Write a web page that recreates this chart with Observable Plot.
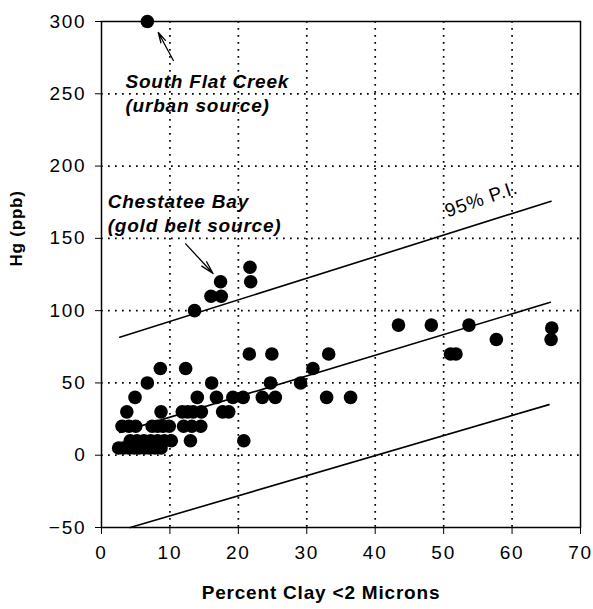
<!DOCTYPE html>
<html><head><meta charset="utf-8">
<script src="https://cdn.jsdelivr.net/npm/d3@7"></script>
<script src="https://cdn.jsdelivr.net/npm/@observablehq/plot@0.6"></script>
<style>
body{margin:0;background:#fff}
</style>
</head><body><div id="chart"></div>
<script>
// Observations: percent clay (<2 microns) and Hg (ppb)
const clayPct = [
  2.5, 3.2, 4.0, 4.8, 5.5, 6.3, 7.0, 7.8, 8.7,
  4.2, 5.2, 6.2, 7.2, 8.2, 9.2, 10.2, 13.0, 20.8,
  3.0, 4.0, 5.0, 7.4, 8.2, 9.0, 9.9, 12.0, 13.2, 14.5,
  3.7, 8.7, 11.8, 12.6, 13.4, 14.6, 17.7, 18.6,
  4.9, 14.0, 16.8, 19.2, 20.7, 23.5, 25.4, 32.9, 36.4,
  6.7, 16.1, 24.7, 29.1,
  8.6, 12.3, 30.9,
  21.6, 24.9, 33.2, 51.0, 51.8,
  57.7, 65.7,
  43.4, 48.2, 53.7, 65.8,
  13.6,
  16.0, 17.5,
  17.4, 21.8,
  21.7,
  6.7
];
const hgPpb = [
  5, 5, 5, 5, 5, 5, 5, 5, 5,
  10, 10, 10, 10, 10, 10, 10, 10, 10,
  20, 20, 20, 20, 20, 20, 20, 20, 20, 20,
  30, 30, 30, 30, 30, 30, 30, 30,
  40, 40, 40, 40, 40, 40, 40, 40, 40,
  50, 50, 50, 50,
  60, 60, 60,
  70, 70, 70, 70, 70,
  80, 80,
  90, 90, 90, 88,
  100,
  110, 110,
  120, 120,
  130,
  300
];

// Regression line and 95% prediction interval (end points)
const upperPIx = [2.67, 65.7], upperPIy = [81.6, 175.7];
const fitX = [2.67, 65.6], fitY = [15.8, 105.8];
const lowerPIx = [4.2, 65.4], lowerPIy = [-50, 35];

// Axis ticks and grid
const xTicks = [0, 10, 20, 30, 40, 50, 60, 70];
const yTicks = [-50, 0, 50, 100, 150, 200, 250, 300];
const xGrid = [10, 20, 30, 40, 50, 60];
const yGrid = [0, 50, 100, 150, 200, 250];

// Annotations
const noteText = ["South Flat Creek\n(urban source)", "Chestatee Bay\n(gold belt source)"];
const noteX = [3.5, 0.9];
const noteY = [251, 168];
const piLabel = ["95% P.I."];
const piLabelX = [55.5], piLabelY = [177];
const arrowFromX = [10.5, 12.3], arrowFromY = [273, 146.2];
const arrowToX = [8.3, 16.3], arrowToY = [292.4, 125.7];

const points = clayPct.map((x, i) => ({x, y: hgPpb[i]}));
const lines = [];
[[upperPIx, upperPIy, "upper"], [fitX, fitY, "fit"], [lowerPIx, lowerPIy, "lower"]].forEach(([xs, ys, s]) => {
  xs.forEach((x, i) => lines.push({x, y: ys[i], series: s}));
});
const notes = noteText.map((t, i) => ({t, x: noteX[i], y: noteY[i]}));
const arrows = arrowFromX.map((x1, i) => ({x1, y1: arrowFromY[i], x2: arrowToX[i], y2: arrowToY[i]}));

const chart = Plot.plot({
  width: 593,
  height: 609,
  marginLeft: 101,
  marginRight: 13,
  marginTop: 21,
  marginBottom: 82,
  style: {fontFamily: "Arial, 'Liberation Sans', sans-serif", fontSize: "18px", color: "black", background: "white", overflow: "visible", letterSpacing: "0.8px"},
  x: {domain: [0, 70], ticks: xTicks, tickSize: 7, tickPadding: 11, label: null},
  y: {domain: [-50, 300], ticks: yTicks, tickSize: 6, tickPadding: 9, label: null},
  marks: [
    Plot.ruleX(xGrid, {stroke: "black", strokeWidth: 1.7, strokeDasharray: "1.7,5.3"}),
    Plot.ruleY(yGrid, {stroke: "black", strokeWidth: 1.7, strokeDasharray: "1.7,5.3"}),
    Plot.frame({stroke: "black", strokeWidth: 1.5}),
    Plot.line(lines, {x: "x", y: "y", z: "series", stroke: "black", strokeWidth: 1.6}),
    Plot.dot(points, {x: "x", y: "y", r: 6.8, fill: "black", stroke: "none"}),
    Plot.arrow(arrows, {x1: "x1", y1: "y1", x2: "x2", y2: "y2", stroke: "black", strokeWidth: 1.3, headLength: 18, headAngle: 28}),
    Plot.text(notes, {x: "x", y: "y", text: "t", textAnchor: "start", lineAnchor: "middle", lineHeight: 1.29, fontSize: 19, fontWeight: "bold", fontStyle: "italic", fill: "black"}),
    Plot.text(piLabel, {x: () => piLabelX[0], y: () => piLabelY[0], text: d => d, rotate: -19, fontSize: 19, fill: "black"}),
    Plot.text(["Percent Clay <2 Microns"], {frameAnchor: "bottom", dx: -20, dy: 71, fontSize: 19, fontWeight: "bold", fill: "black"}),
    Plot.text(["Hg (ppb)"], {frameAnchor: "left", dx: -85, dy: -8, rotate: -90, fontSize: 17, fontWeight: "bold", fill: "black"})
  ]
});
// larger, wider-set axis tick labels, as in the scanned original
d3.select(chart).selectAll("text").filter(function() {
  return /^[\u2212\-]?\d+$/.test(this.textContent.trim());
}).style("font-family", "Arial, 'Liberation Sans', sans-serif").style("font-size", "19px").style("letter-spacing", "1.8px");
document.getElementById("chart").appendChild(chart);
</script>
</body></html>
